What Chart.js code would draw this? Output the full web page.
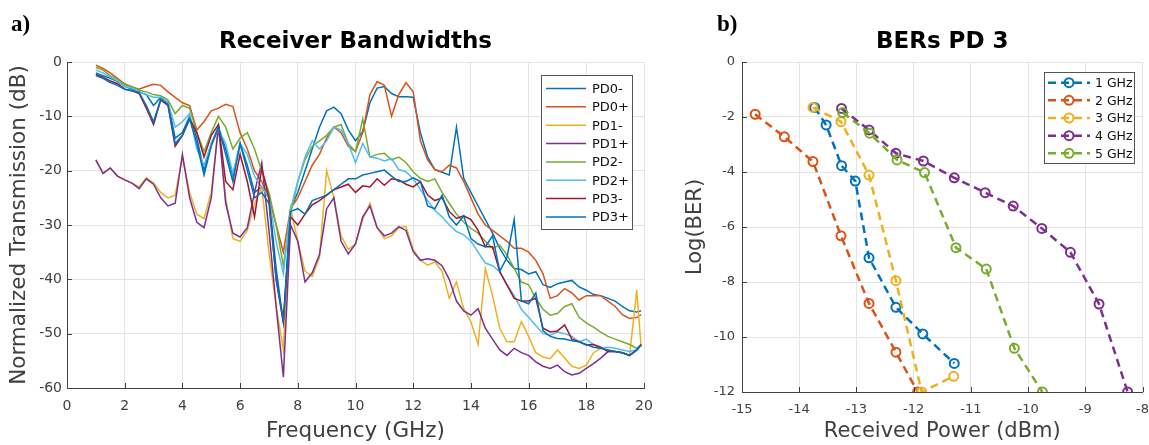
<!DOCTYPE html>
<html lang="en">
<head>
<meta charset="UTF-8">
<title>Receiver Bandwidths / BERs PD 3</title>
<script src="https://cdn.jsdelivr.net/npm/chart.js"></script>
<style>
  body { margin: 0; background: #fff; }
  #wrap { position: relative; width: 1149px; height: 445px; overflow: hidden; }
  canvas { position: absolute; top: 0; }
  #chartA { left: 0; }
  #chartB { left: 675px; }
</style>
</head>
<body>
<div id="wrap">
  <canvas id="chartA" width="675" height="445"></canvas>
  <canvas id="chartB" width="474" height="445"></canvas>
</div>
<script>
// ---- panel a: normalized transmission (dB) vs frequency (GHz)
const freq = [1, 1.25, 1.5, 1.75, 2, 2.25, 2.5, 2.75, 3, 3.25, 3.5, 3.75, 4, 4.25, 4.5, 4.75,
  5, 5.25, 5.5, 5.75, 6, 6.25, 6.5, 6.75, 7, 7.25, 7.5, 7.75, 8, 8.25, 8.5, 8.75,
  9, 9.25, 9.5, 9.75, 10, 10.25, 10.5, 10.75, 11, 11.25, 11.5, 11.75, 12, 12.25, 12.5, 12.75,
  13, 13.25, 13.5, 13.75, 14, 14.25, 14.5, 14.75, 15, 15.25, 15.5, 15.75, 16, 16.25, 16.5, 16.75,
  17, 17.25, 17.5, 17.75, 18, 18.25, 18.5, 18.75, 19, 19.25, 19.5, 19.75, 19.9];

const pd0Minus = [-2, -2.5, -3, -3.6, -4.5, -5, -5.5, -6, -8, -6.5, -7.5, -14, -13, -10, -14, -20,
  -15, -12, -16, -21, -15, -19, -24, -23, -25, -38, -48, -27, -24, -20, -16, -12,
  -9, -8.3, -9.5, -12.5, -14.5, -12.8, -7.5, -4.8, -4.5, -5.8, -6.4, -6.4, -6.5, -13, -17.5, -19.8,
  -20.3, -20.8, -12, -21.4, -24, -26.5, -29, -31.5, -34.3, -36.5, -38, -38.2, -39, -38.6, -41, -41.5,
  -40.8, -40.5, -40.2, -41.4, -42, -42.8, -43, -43.5, -44, -45, -45.8, -46, -45.8];
const pd0Plus = [-0.6, -1.2, -2, -3, -4, -4.6, -5, -4.5, -4.1, -4.3, -5.5, -6.5, -7.5, -8, -12.5, -11,
  -9, -8.5, -7.8, -8.2, -13, -16, -20, -22, -25, -30, -35, -27, -25, -22, -19, -17,
  -14, -12, -13, -15.5, -16.5, -13, -6, -3.6, -4.3, -10, -6, -3.8, -5.5, -14.5, -18, -19.8,
  -20.2, -19, -19.5, -22, -25, -28, -30, -31, -32, -33, -34.3, -34.3, -35, -36.5, -39, -43.5,
  -43, -41.7, -42.5, -43.8, -43, -43, -43, -44, -45, -46.5, -47.2, -47, -46.5];
const pd1Minus = [-18, -20.5, -19.5, -21, -21.7, -22.3, -23, -21.3, -22.3, -24, -25, -24.5, -17.5, -24, -28, -28.8,
  -24, -12, -25, -32.5, -33, -31, -26, -23, -35, -45, -53, -27, -33, -38.5, -39.5, -36,
  -20, -25, -32, -34.5, -33.5, -29, -26, -30.5, -32.5, -32, -30.5, -30.3, -34.5, -36.5, -37.4, -36.8,
  -38.5, -43.5, -40.5, -45.4, -47.8, -52, -38, -43, -49, -51.5, -51.5, -47.8, -50.5, -53.5, -54.3, -54.6,
  -53, -54.5, -56, -56.4, -55.8, -53.5, -52.7, -53, -53.3, -53.5, -54, -42, -52.5];
const pd1Plus = [-18, -20.5, -19.5, -21, -21.7, -22.3, -23.3, -21.5, -22.5, -25, -26.5, -26, -17, -25, -29.5, -30.5,
  -25, -11.5, -26, -31.5, -32.2, -30.5, -24, -18.5, -31, -45, -58, -30, -33, -40.5, -38.8, -35.5,
  -27, -25, -33, -35.3, -33.5, -28.5, -26.5, -30.5, -32, -31.5, -30.3, -31, -34.9, -36.5, -36.2, -36.5,
  -37.5, -40, -44, -45.8, -46.6, -45.4, -49, -51, -53, -54, -52.7, -53.5, -54, -55.2, -56, -56.4,
  -55.8, -57, -57.6, -57.3, -56.4, -55.5, -54.5, -53.3, -53.3, -53.5, -54, -53, -52];
const pd2Minus = [-1, -1.5, -2.5, -3.2, -4.2, -4.5, -5.2, -5.5, -6, -6.2, -7, -9.5, -8, -8.5, -13, -16.5,
  -13, -10, -12, -16, -14, -13, -16, -20, -24, -30, -37.5, -28, -22, -18, -15.5, -14.5,
  -13.5, -12, -11.5, -15, -16.5, -10.5, -17.5, -17, -16.8, -18, -17.5, -18.5, -20.2, -21.4, -22, -21.5,
  -24, -26, -28, -29.5, -30.6, -31.5, -33, -34.3, -33.7, -35.5, -38, -40.5, -41, -43.5, -45.5, -46.6,
  -46.3, -45, -44.5, -47, -48, -48.8, -49.7, -50.5, -51, -51.5, -52, -52.7, -52];
const pd2Plus = [-1.5, -2, -2.8, -3.5, -4.5, -4.8, -5.5, -6, -6.5, -6.5, -7.5, -12, -11, -9.5, -16, -19,
  -15, -12.5, -15, -20.5, -15, -17, -21, -23, -25, -33, -39, -27, -22, -17.5, -14.5, -16,
  -14.5, -12, -12.5, -15, -18.5, -15, -17.5, -17.7, -18.2, -17.8, -19.8, -20.2, -21.5, -23.5, -25.5, -27.3,
  -28.5, -30, -31.2, -31.8, -33, -35, -37, -37.5, -38.6, -41, -43, -45.5, -47, -48.5, -50, -50.3,
  -49.7, -50, -50.5, -51.5, -51, -52, -52.7, -52.5, -52.7, -53, -53.3, -53, -52];
const pd3Minus = [-2.3, -2.8, -3.5, -4, -5, -5.3, -5.8, -8.5, -11.5, -7, -8, -15.5, -13.5, -10.5, -13, -17.5,
  -13.5, -11.5, -22, -23.5, -17, -22, -28.5, -19.5, -25, -40, -48, -28.5, -30, -28, -26.3, -25.5,
  -24.5, -23.5, -23, -22.5, -24, -22.8, -23, -21.5, -22.7, -21.5, -21.7, -22.5, -23, -22, -24.5, -25.5,
  -25, -27.5, -28.8, -28.3, -29, -31, -34, -34, -38.6, -41, -43.5, -44, -44, -43.5, -49, -49.7,
  -49.5, -48.4, -51, -51.5, -52.1, -52, -52.5, -53.3, -53.3, -53.5, -54, -53, -52];
const pd3Plus = [-2.5, -3, -3.8, -4.3, -5, -5.3, -5.6, -8, -11, -6.8, -7.8, -15, -13.5, -10.5, -15, -20.8,
  -15.5, -12, -17, -22, -15, -20, -25, -24, -26, -40, -47.5, -27.5, -27, -28, -25.5, -25,
  -24.5, -23.5, -22.5, -21.5, -21.5, -20.8, -20.5, -20.2, -19.9, -21, -22, -22, -21.3, -22, -26.5, -27,
  -24.5, -28.5, -30, -28.3, -32.5, -33.5, -34, -32, -38.5, -36, -29, -44, -44.5, -42.5, -49.5, -50.5,
  -50.9, -51, -51.3, -51.5, -52, -52.5, -52.7, -53, -53.3, -53.5, -54, -53, -52];

const pdNames = ['PD0-', 'PD0+', 'PD1-', 'PD1+', 'PD2-', 'PD2+', 'PD3-', 'PD3+'];
const pdSeries = [pd0Minus, pd0Plus, pd1Minus, pd1Plus, pd2Minus, pd2Plus, pd3Minus, pd3Plus];
const pdColors = ['#0072BD', '#D95319', '#EDB120', '#7E2F8E', '#77AC30', '#4DBEEE', '#A2142F', '#0072BD'];

// ---- panel b: log(BER) vs received power (dBm), PD 3
const berNames = ['1 GHz', '2 GHz', '3 GHz', '4 GHz', '5 GHz'];
const power1 = [-13.73, -13.53, -13.26, -13.02, -12.78, -12.31, -11.84, -11.29];
const ber1 = [-1.65, -2.29, -3.77, -4.33, -7.12, -8.92, -9.89, -10.96];
const power2 = [-14.77, -14.26, -13.76, -13.27, -12.78, -12.31, -11.93];
const ber2 = [-1.9, -2.72, -3.62, -6.32, -8.78, -10.55, -12];
const power3 = [-13.76, -13.27, -12.78, -12.31, -11.86, -11.3];
const ber3 = [-1.65, -2.17, -4.11, -7.95, -12, -11.43];
const power4 = [-13.26, -12.78, -12.31, -11.83, -11.29, -10.75, -10.26, -9.76, -9.26, -8.76, -8.26];
const ber4 = [-1.69, -2.47, -3.32, -3.6, -4.21, -4.75, -5.24, -6.05, -6.92, -8.8, -12];
const power5 = [-13.24, -12.77, -12.29, -11.81, -11.26, -10.73, -10.24, -9.75];
const ber5 = [-1.84, -2.59, -3.56, -4.02, -6.75, -7.53, -10.41, -12];
const berPower = [power1, power2, power3, power4, power5];
const berValues = [ber1, ber2, ber3, ber4, ber5];
const berColors = ['#0072BD', '#D95319', '#EDB120', '#7E2F8E', '#77AC30'];

const FONT = '"DejaVu Sans", sans-serif';
const GRID = '#e4e4e4';
const AXIS = '#404040';

// titles, panel letters, inward tick marks and the boxed legends
function decor(opts) {
  return {
    id: 'decor',
    afterDraw(chart) {
      const ctx = chart.ctx;
      const a = chart.chartArea;
      const xs = chart.scales.x, ys = chart.scales.y;
      ctx.save();
      ctx.strokeStyle = AXIS;
      ctx.lineWidth = 1;
      ctx.beginPath();
      xs.ticks.forEach(t => {
        const px = Math.round(xs.getPixelForValue(t.value)) + 0.5;
        ctx.moveTo(px, a.bottom); ctx.lineTo(px, a.bottom - 5);
      });
      ys.ticks.forEach(t => {
        const py = Math.round(ys.getPixelForValue(t.value)) + 0.5;
        ctx.moveTo(a.left, py); ctx.lineTo(a.left + 5, py);
      });
      ctx.stroke();

      ctx.fillStyle = '#000';
      ctx.font = 'bold 23px ' + FONT;
      ctx.textAlign = 'center';
      ctx.textBaseline = 'middle';
      ctx.fillText(opts.title, (a.left + a.right) / 2, 42);

      ctx.font = 'bold 23px "Liberation Serif", serif';
      ctx.textAlign = 'left';
      ctx.textBaseline = 'alphabetic';
      ctx.fillText(opts.letter, opts.letterX, 31);

      // legend box
      const lg = opts.legend;
      ctx.fillStyle = '#fff';
      ctx.fillRect(lg.x, lg.y, lg.w, lg.h);
      ctx.strokeStyle = '#555';
      ctx.strokeRect(lg.x + 0.5, lg.y + 0.5, lg.w, lg.h);
      ctx.font = lg.size + 'px ' + FONT;
      ctx.textBaseline = 'middle';
      chart.data.datasets.forEach((ds, i) => {
        const y = lg.y + lg.first + i * lg.step;
        ctx.strokeStyle = ds.borderColor;
        ctx.lineWidth = ds.borderWidth;
        ctx.setLineDash(ds.borderDash || []);
        ctx.beginPath();
        ctx.moveTo(lg.x + lg.l0, y); ctx.lineTo(lg.x + lg.l1, y);
        ctx.stroke();
        ctx.setLineDash([]);
        if (lg.marker) {
          ctx.lineWidth = 2;
          ctx.beginPath();
          ctx.arc(lg.x + (lg.l0 + lg.l1) / 2, y, 4.5, 0, Math.PI * 2);
          ctx.stroke();
        }
        ctx.fillStyle = '#111';
        ctx.fillText(ds.label, lg.x + lg.tx, y + 1);
      });
      ctx.restore();
    }
  };
}

function axisFont(size) { return { family: FONT, size: size }; }

new Chart(document.getElementById('chartA'), {
  type: 'line',
  data: {
    datasets: pdSeries.map((arr, i) => ({
      label: pdNames[i],
      data: freq.map((f, j) => ({ x: f, y: arr[j] })),
      borderColor: pdColors[i],
      borderWidth: 1.5,
      pointRadius: 0,
      tension: 0,
      fill: false,
      order: 7 - i
    }))
  },
  options: {
    responsive: false,
    animation: false,
    devicePixelRatio: 1,
    layout: { padding: { left: 0, right: 31, top: 62, bottom: 0 } },
    plugins: { legend: { display: false }, tooltip: { enabled: false } },
    scales: {
      x: {
        type: 'linear', min: 0, max: 20,
        ticks: { stepSize: 2, font: axisFont(14), color: AXIS, padding: 10, maxRotation: 0 },
        grid: { color: GRID, drawTicks: false },
        border: { color: AXIS },
        title: { display: true, text: 'Frequency (GHz)', font: axisFont(21.5), color: AXIS, padding: { top: 0, bottom: 1 } },
        afterFit(s) { s.height = 57; s.paddingLeft = 0; s.paddingRight = 0; }
      },
      y: {
        min: -60, max: 0,
        ticks: { stepSize: 10, font: axisFont(14), color: AXIS, padding: 5 },
        grid: { color: GRID, drawTicks: false },
        border: { color: AXIS },
        title: { display: true, text: 'Normalized Transmission (dB)', font: axisFont(21.5), color: AXIS, padding: { top: 7, bottom: 0 } },
        afterFit(s) { s.width = 67; s.paddingTop = 0; s.paddingBottom = 0; }
      }
    }
  },
  plugins: [decor({
    title: 'Receiver Bandwidths', letter: 'a)', letterX: 11,
    legend: { x: 541, y: 75, w: 91, h: 154, first: 13.5, step: 18.35, l0: 5, l1: 45, tx: 51, size: 13 }
  })]
});

new Chart(document.getElementById('chartB'), {
  type: 'line',
  data: {
    datasets: berValues.map((arr, i) => ({
      label: berNames[i],
      data: berPower[i].map((p, j) => ({ x: p, y: arr[j] })),
      borderColor: berColors[i],
      borderWidth: 2.5,
      borderDash: [8, 5],
      pointRadius: 4.5,
      pointBorderWidth: 2,
      pointBackgroundColor: 'rgba(255,255,255,0)',
      pointBorderColor: berColors[i],
      tension: 0,
      fill: false,
      order: 4 - i
    }))
  },
  options: {
    responsive: false,
    animation: false,
    devicePixelRatio: 1,
    layout: { padding: { left: 0, right: 3, top: 62, bottom: 0 } },
    plugins: { legend: { display: false }, tooltip: { enabled: false } },
    scales: {
      x: {
        type: 'linear', min: -15, max: -8,
        ticks: { stepSize: 1, font: axisFont(13), color: AXIS, padding: 10, maxRotation: 0 },
        grid: { color: GRID, drawTicks: false },
        border: { color: AXIS },
        title: { display: true, text: 'Received Power (dBm)', font: axisFont(21), color: AXIS, padding: { top: 0, bottom: 1 } },
        afterFit(s) { s.height = 53; s.paddingLeft = 0; s.paddingRight = 0; }
      },
      y: {
        min: -12, max: 0,
        ticks: { stepSize: 2, font: axisFont(13), color: AXIS, padding: 7 },
        grid: { color: GRID, drawTicks: false },
        border: { color: AXIS },
        title: { display: true, text: 'Log(BER)', font: axisFont(21), color: AXIS, padding: { top: 8, bottom: 0 } },
        afterFit(s) { s.width = 67; s.paddingTop = 0; s.paddingBottom = 0; }
      }
    }
  },
  plugins: [decor({
    title: 'BERs PD 3', letter: 'b)', letterX: 42,
    legend: { x: 369, y: 72, w: 90, h: 91, first: 10.7, step: 17.65, l0: 4, l1: 46, tx: 51, size: 12.5, marker: true }
  })]
});
</script>
</body>
</html>
